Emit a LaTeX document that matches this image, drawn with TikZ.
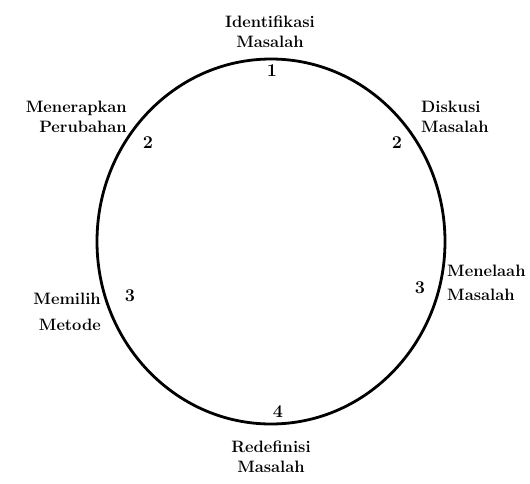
\documentclass[tikz,border=0pt]{standalone}
\usepackage{fontspec}
\usepackage{tikz}
\usetikzlibrary{positioning}

\begin{document}
\begin{tikzpicture}[x=1pt,y=-1pt,
  lbl/.style={font=\fontsize{16.5}{20}\selectfont\bfseries,inner sep=0pt},
  num/.style={font=\fontsize{18}{20}\selectfont\bfseries,inner sep=0pt}]
\useasboundingbox (0,0) rectangle (530,483);
\draw[line width=2.8pt](271,241.5)ellipse[x radius=174,y radius=182.5];
\node[lbl,align=center](identifikasi) at (270,32){Identifikasi\\Masalah};
\node[lbl,align=right,anchor=east](menerapkan) at (127,117){Menerapkan\\Perubahan};
\node[lbl,align=left,anchor=west](diskusi) at (421,117){Diskusi\\Masalah};
\node[lbl,align=right,anchor=east](memilih) at (101,312){Memilih\\[6pt]Metode};
\node[lbl,align=left,anchor=west](menelaah) at (447,283){Menelaah\\[4pt]Masalah};
\node[lbl,align=center](redefinisi) at (271,457){Redefinisi\\Masalah};
\node[num](n1) at (272,71){1};
\node[num](n2a) at (148,143){2};
\node[num](n2b) at (397,143){2};
\node[num](n3a) at (130,296){3};
\node[num](n3b) at (420,288){3};
\node[num](n4) at (278,412){4};
\end{tikzpicture}
\end{document}
